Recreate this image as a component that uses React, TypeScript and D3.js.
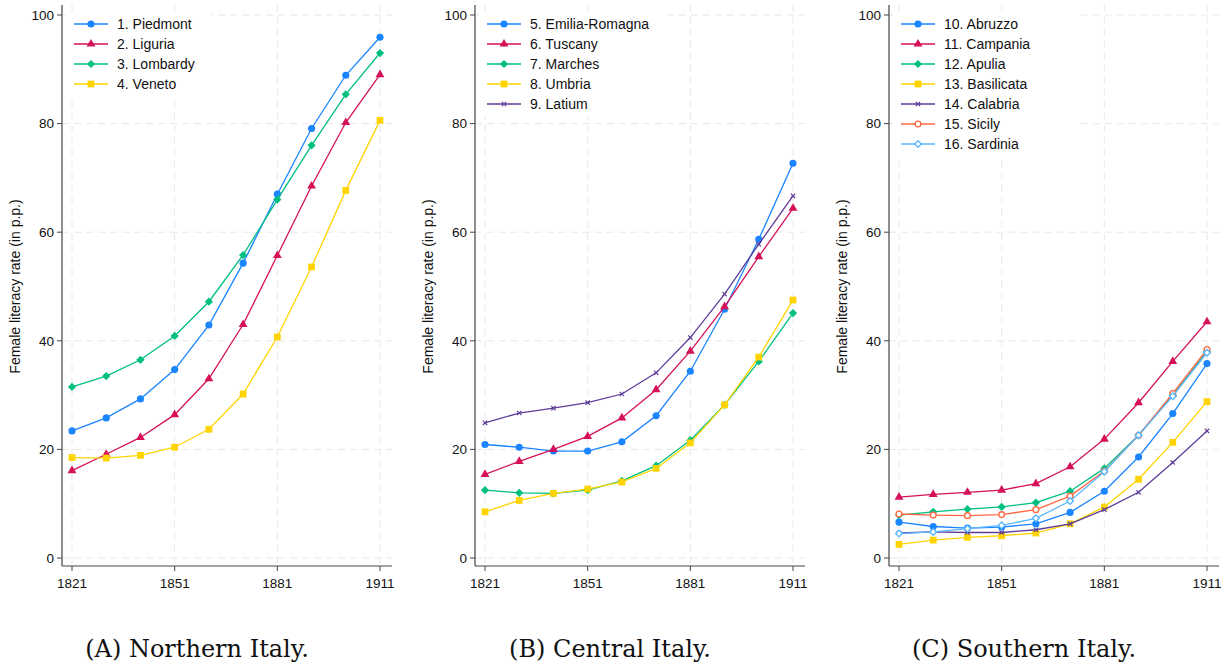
import React from 'react'
import * as d3 from 'd3'

const years = [1821, 1831, 1841, 1851, 1861, 1871, 1881, 1891, 1901, 1911]
const xTicks = [1821, 1851, 1881, 1911]
const yTicks = [0, 20, 40, 60, 80, 100]

// Northern Italy
const piedmont = [23.4, 25.8, 29.3, 34.7, 42.9, 54.3, 67.0, 79.1, 88.9, 95.9]
const liguria = [16.1, 19.1, 22.2, 26.4, 33.0, 43.0, 55.7, 68.5, 80.2, 89.0]
const lombardy = [31.5, 33.5, 36.5, 40.9, 47.2, 55.8, 66.0, 76.0, 85.4, 93.0]
const veneto = [18.5, 18.4, 18.9, 20.4, 23.7, 30.2, 40.7, 53.6, 67.7, 80.6]

// Central Italy
const emilia = [20.9, 20.4, 19.7, 19.7, 21.4, 26.2, 34.4, 45.8, 58.7, 72.7]
const tuscany = [15.4, 17.8, 20.0, 22.4, 25.8, 31.0, 38.1, 46.3, 55.5, 64.4]
const marches = [12.5, 12.0, 11.9, 12.5, 14.2, 17.0, 21.7, 28.2, 36.2, 45.1]
const umbria = [8.5, 10.6, 11.9, 12.7, 14.0, 16.5, 21.2, 28.2, 37.0, 47.5]
const latium = [24.9, 26.7, 27.6, 28.6, 30.2, 34.1, 40.6, 48.6, 57.8, 66.7]

// Southern Italy
const abruzzo = [6.6, 5.8, 5.5, 5.7, 6.3, 8.4, 12.3, 18.6, 26.6, 35.8]
const campania = [11.2, 11.7, 12.1, 12.5, 13.7, 16.8, 21.9, 28.6, 36.2, 43.5]
const apulia = [7.9, 8.5, 9.0, 9.4, 10.2, 12.3, 16.5, 22.6, 30.0, 38.0]
const basilicata = [2.5, 3.3, 3.8, 4.1, 4.6, 6.3, 9.4, 14.5, 21.3, 28.8]
const calabria = [4.6, 4.8, 4.7, 4.7, 5.2, 6.3, 8.9, 12.1, 17.6, 23.4]
const sicily = [8.1, 7.9, 7.8, 8.0, 8.9, 11.4, 16.0, 22.6, 30.3, 38.4]
const sardinia = [4.5, 4.8, 5.4, 6.0, 7.3, 10.5, 15.9, 22.6, 29.8, 37.8]

type Marker = 'circle' | 'triangle' | 'diamond' | 'square' | 'x' | 'ocircle' | 'odiamond'

interface Series {
  name: string
  values: number[]
  color: string
  marker: Marker
}

const panels: { caption: string; axisX: number; series: Series[] }[] = [
  {
    caption: '(A) Northern Italy.',
    axisX: 62,
    series: [
      { name: '1. Piedmont', values: piedmont, color: '#1a85ff', marker: 'circle' },
      { name: '2. Liguria', values: liguria, color: '#d41159', marker: 'triangle' },
      { name: '3. Lombardy', values: lombardy, color: '#00bf7f', marker: 'diamond' },
      { name: '4. Veneto', values: veneto, color: '#ffd400', marker: 'square' },
    ],
  },
  {
    caption: '(B) Central Italy.',
    axisX: 475,
    series: [
      { name: '5. Emilia-Romagna', values: emilia, color: '#1a85ff', marker: 'circle' },
      { name: '6. Tuscany', values: tuscany, color: '#d41159', marker: 'triangle' },
      { name: '7. Marches', values: marches, color: '#00bf7f', marker: 'diamond' },
      { name: '8. Umbria', values: umbria, color: '#ffd400', marker: 'square' },
      { name: '9. Latium', values: latium, color: '#5e3c99', marker: 'x' },
    ],
  },
  {
    caption: '(C) Southern Italy.',
    axisX: 889,
    series: [
      { name: '10. Abruzzo', values: abruzzo, color: '#1a85ff', marker: 'circle' },
      { name: '11. Campania', values: campania, color: '#d41159', marker: 'triangle' },
      { name: '12. Apulia', values: apulia, color: '#00bf7f', marker: 'diamond' },
      { name: '13. Basilicata', values: basilicata, color: '#ffd400', marker: 'square' },
      { name: '14. Calabria', values: calabria, color: '#5e3c99', marker: 'x' },
      { name: '15. Sicily', values: sicily, color: '#ff6a45', marker: 'ocircle' },
      { name: '16. Sardinia', values: sardinia, color: '#5bb8ff', marker: 'odiamond' },
    ],
  },
]

const font = '"Liberation Sans", Arial, sans-serif'

function markerPath(m: Marker): string {
  const sym = d3.symbol()
  switch (m) {
    case 'circle':
      return sym.type(d3.symbolCircle).size(40)()!
    case 'ocircle':
      return sym.type(d3.symbolCircle).size(26)()!
    case 'triangle':
      return sym.type(d3.symbolTriangle).size(34)()!
    case 'diamond':
      return sym.type(d3.symbolSquare).size(34)()!
    case 'odiamond':
      return sym.type(d3.symbolSquare).size(22)()!
    case 'square':
      return sym.type(d3.symbolSquare).size(46)()!
    case 'x':
      return sym.type(d3.symbolTimes).size(14)()!
  }
}

function MarkerShape({ m, color, x, y }: { m: Marker; color: string; x: number; y: number }) {
  const rotate = m === 'diamond' || m === 'odiamond' ? ' rotate(45)' : ''
  const hollow = m === 'ocircle' || m === 'odiamond'
  const stroked = m === 'x'
  return (
    <path
      d={markerPath(m)}
      transform={`translate(${x},${y})${rotate}`}
      fill={hollow ? 'white' : stroked ? 'none' : color}
      stroke={hollow || stroked ? color : 'none'}
      strokeWidth={hollow ? 1.4 : 1.2}
    />
  )
}

function Panel({ caption, axisX, series }: { caption: string; axisX: number; series: Series[] }) {
  const top = 15
  const bottom = 558
  const axisY = 566
  const x = d3.scaleLinear().domain([1821, 1911]).range([axisX + 10, axisX + 318])
  const y = d3.scaleLinear().domain([0, 100]).range([bottom, top])
  const line = d3
    .line<number>()
    .x((_, i) => x(years[i]))
    .y(d => y(d))

  const legX = axisX + 12
  const legY = 24
  const legStep = 20

  return (
    <g>
      {/* grid */}
      {yTicks.map(t => (
        <line key={'gy' + t} x1={axisX} x2={axisX + 330} y1={y(t)} y2={y(t)}
          stroke="#e8e8e8" strokeDasharray="7,5" />
      ))}
      {xTicks.map(t => (
        <line key={'gx' + t} x1={x(t)} x2={x(t)} y1={5} y2={axisY}
          stroke="#e8e8e8" strokeDasharray="7,5" />
      ))}

      {/* series */}
      {series.map(s => (
        <g key={s.name}>
          <path d={line(s.values)!} fill="none" stroke={s.color} strokeWidth={1.3} />
          {s.values.map((v, i) => (
            <MarkerShape key={i} m={s.marker} color={s.color} x={x(years[i])} y={y(v)} />
          ))}
        </g>
      ))}

      {/* legend */}
      <rect x={axisX + 4} y={legY - 12} width={series.length > 4 ? 185 : 145}
        height={series.length * legStep + 4} fill="white" />
      {series.map((s, i) => (
        <g key={'leg' + s.name} transform={`translate(${legX},${legY + i * legStep})`}>
          <line x1={0} x2={34} y1={0} y2={0} stroke={s.color} strokeWidth={1.5} />
          <MarkerShape m={s.marker} color={s.color} x={17} y={0} />
          <text x={43} y={0} dy="0.36em" fontSize={14} fontFamily={font} fill="#111">
            {s.name}
          </text>
        </g>
      ))}

      {/* axes */}
      <line x1={axisX} x2={axisX} y1={5} y2={axisY} stroke="#444" strokeWidth={1.2} />
      <line x1={axisX} x2={axisX + 330} y1={axisY} y2={axisY} stroke="#444" strokeWidth={1.2} />
      {yTicks.map(t => (
        <g key={'ty' + t}>
          <line x1={axisX - 5} x2={axisX} y1={y(t)} y2={y(t)} stroke="#444" />
          <text x={axisX - 8} y={y(t)} dy="0.36em" textAnchor="end" fontSize={13.5}
            fontFamily={font} fill="#111">{t}</text>
        </g>
      ))}
      {xTicks.map(t => (
        <g key={'tx' + t}>
          <line x1={x(t)} x2={x(t)} y1={axisY} y2={axisY + 5} stroke="#444" />
          <text x={x(t)} y={axisY + 22} textAnchor="middle" fontSize={13.5}
            fontFamily={font} fill="#111">{t}</text>
        </g>
      ))}
      <text transform={`translate(${axisX - 42},${(top + bottom) / 2}) rotate(-90)`}
        textAnchor="middle" fontSize={14} fontFamily={font} fill="#111">
        Female literacy rate (in p.p.)
      </text>

      <text x={axisX + 135} y={657} textAnchor="middle" fontSize={24}
        fontFamily='"DejaVu Serif", "Liberation Serif", serif' fill="#111">
        {caption}
      </text>
    </g>
  )
}

export default function App() {
  return (
    <svg width={1224} height={666} style={{ position: 'absolute', left: 0, top: 0, background: 'white' }}>
      {panels.map(p => (
        <Panel key={p.caption} caption={p.caption} axisX={p.axisX} series={p.series} />
      ))}
    </svg>
  )
}
